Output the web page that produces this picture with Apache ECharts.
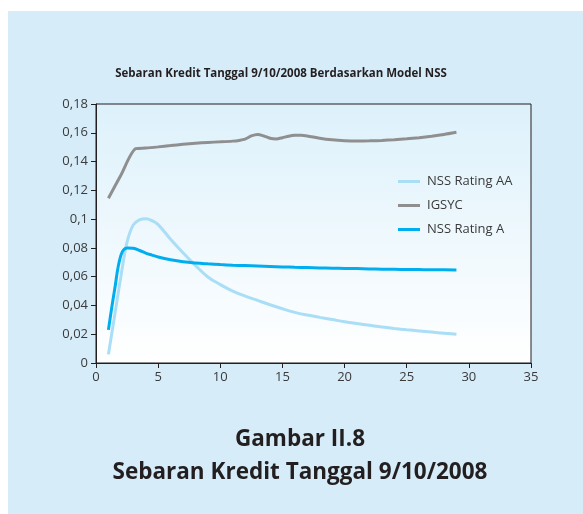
<!DOCTYPE html>
<html><head><meta charset="utf-8">
<script src="https://cdn.jsdelivr.net/npm/echarts@6/dist/echarts.min.js"></script>
<style>html,body{margin:0;padding:0;background:#fff;}#c{width:583px;height:514px;}</style>
</head><body><div id="c"></div>
<script>
const chartTitle = 'Sebaran Kredit Tanggal 9/10/2008 Berdasarkan Model NSS';
const captionLines = ['Gambar II.8', 'Sebaran Kredit Tanggal 9/10/2008'];
const seriesNames = ['NSS Rating AA', 'IGSYC', 'NSS Rating A'];

const nssMaturity = [1,1.5,2,2.5,3,3.5,4,4.5,5,6,7,8,9,10,11,12,13,14,15,16,17,18,19,20,21,22,23,24,25,26,27,28,29];
const nssAA = [0.006,0.033,0.060,0.084,0.096,0.0995,0.1003,0.0990,0.0962,0.0860,0.0766,0.0678,0.0598,0.0545,0.0500,0.0465,0.0435,0.0405,0.0377,0.0352,0.0333,0.0317,0.0302,0.0287,0.0274,0.0262,0.0250,0.0240,0.0231,0.0223,0.0215,0.0207,0.0199];
const nssA = [0.023,0.051,0.0748,0.0800,0.0797,0.0782,0.0764,0.0750,0.0737,0.0718,0.0704,0.0695,0.0689,0.0684,0.0680,0.0677,0.0674,0.0671,0.0668,0.0665,0.0663,0.0661,0.0659,0.0657,0.0656,0.0654,0.0652,0.0651,0.0650,0.0649,0.0648,0.0648,0.0647];

const igsycMaturity = [1,2,3.2,4,5,6,7,8,9,10,11,11.5,12,12.5,13,13.5,14,14.5,15,15.5,16,16.5,17,18,19,20,21,22,23,24,25,26,27,28,29];
const igsyc = [0.1145,0.1305,0.149,0.1494,0.1502,0.1511,0.1520,0.1527,0.1533,0.1537,0.1542,0.1547,0.1556,0.1578,0.1588,0.1578,0.1562,0.1557,0.1566,0.1576,0.1582,0.1583,0.1578,0.1562,0.1551,0.1545,0.1543,0.1544,0.1547,0.1552,0.1558,0.1566,0.1576,0.1588,0.1603];

const xMin = 0, xMax = 35, xStep = 5;
const yMin = 0, yMax = 0.18, yStep = 0.02;

const colors = ['#a9def6', '#8f8f8f', '#00aeef'];
const pairs = (xs, ys) => xs.map((x, i) => [x, ys[i]]);

const chart = echarts.init(document.getElementById('c'), null, {renderer: 'canvas'});
const FONT = '"Open Sans", "Noto Sans", sans-serif';
chart.setOption({
  backgroundColor: '#ffffff',
  animation: false,
  graphic: [
    {type: 'rect', shape: {x: 8, y: 11, width: 575, height: 503}, style: {fill: '#d6ecf9'}, z: -10, silent: true},
    {type: 'text', style: {text: chartTitle, x: 281, y: 74, textAlign: 'center', textVerticalAlign: 'middle', font: 'bold 11.5px "Open Sans", sans-serif', fill: '#231f20'}},
    {type: 'text', style: {text: captionLines[0], x: 300, y: 440, textAlign: 'center', textVerticalAlign: 'middle', font: 'bold 22.5px "Open Sans", sans-serif', fill: '#231f20'}},
    {type: 'text', style: {text: captionLines[1], x: 300, y: 473, textAlign: 'center', textVerticalAlign: 'middle', font: 'bold 22.5px "Open Sans", sans-serif', fill: '#231f20'}}
  ],
  grid: {
    left: 96, right: 52, top: 104, bottom: 151,
    show: true, borderColor: '#231f20', borderWidth: 1,
    backgroundColor: new echarts.graphic.LinearGradient(0, 0, 0, 1, [{offset: 0, color: '#ddf1fb'}, {offset: 1, color: '#ffffff'}])
  },
  legend: {
    orient: 'vertical', left: 393, top: 170,
    itemWidth: 22, itemHeight: 14, itemGap: 11,
    data: seriesNames.map(n => ({name: n, icon: 'path://M0,0 L22,0 L22,3 L0,3 Z'})),
    textStyle: {fontFamily: FONT, fontSize: 13, color: '#3a3a3a', padding: [0, 0, 0, 2]}
  },
  xAxis: {
    type: 'value', min: xMin, max: xMax, interval: xStep,
    axisLine: {show: true, lineStyle: {color: '#231f20', width: 1}},
    axisTick: {show: true, length: 5, lineStyle: {color: '#231f20'}},
    axisLabel: {fontFamily: FONT, fontSize: 13, color: '#3a3a3a', margin: 8},
    splitLine: {show: false}
  },
  yAxis: {
    type: 'value', min: yMin, max: yMax, interval: yStep,
    axisLine: {show: true, lineStyle: {color: '#231f20', width: 1}},
    axisTick: {show: true, length: 5, lineStyle: {color: '#231f20'}},
    axisLabel: {fontFamily: FONT, fontSize: 13, color: '#3a3a3a', margin: 8,
      formatter: v => String(+v.toFixed(2)).replace('.', ',')},
    splitLine: {show: false}
  },
  series: [
    {name: seriesNames[0], type: 'line', data: pairs(nssMaturity, nssAA), smooth: 0.4, showSymbol: false, lineStyle: {color: colors[0], width: 3}, itemStyle: {color: colors[0]}, z: 2},
    {name: seriesNames[1], type: 'line', data: pairs(igsycMaturity, igsyc), smooth: 0.25, showSymbol: false, lineStyle: {color: colors[1], width: 3}, itemStyle: {color: colors[1]}, z: 1},
    {name: seriesNames[2], type: 'line', data: pairs(nssMaturity, nssA), smooth: 0.4, showSymbol: false, lineStyle: {color: colors[2], width: 3}, itemStyle: {color: colors[2]}, z: 3}
  ]
});
</script></body></html>
